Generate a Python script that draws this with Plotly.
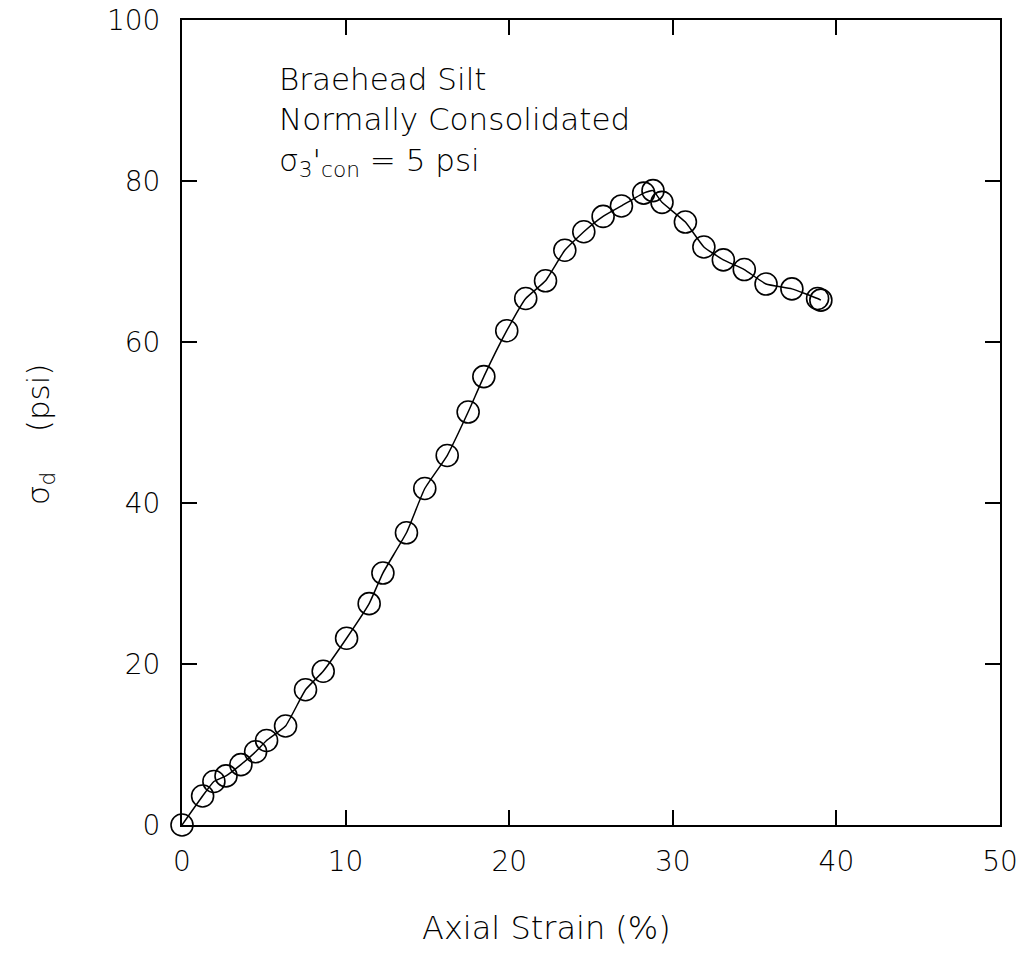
import plotly.graph_objects as go

# Axial strain (%) and deviator stress (psi) for the triaxial test
axial_strain = [0.0, 1.26, 1.95, 2.69, 3.6, 4.5, 5.17, 6.33, 7.55, 8.63,
                10.06, 11.44, 12.28, 13.72, 14.84, 16.21, 17.49, 18.45, 19.85, 21.01,
                22.22, 23.4, 24.56, 25.74, 26.86, 28.22, 28.79, 29.34, 30.77, 31.9,
                33.09, 34.37, 35.7, 37.28, 38.85, 39.05]
deviator_stress = [0.0, 3.6, 5.4, 6.1, 7.5, 9.1, 10.5, 12.3, 16.8, 19.1,
                   23.2, 27.5, 31.3, 36.3, 41.8, 45.9, 51.3, 55.7, 61.4, 65.4,
                   67.6, 71.4, 73.7, 75.6, 76.9, 78.5, 78.8, 77.35, 74.9, 71.8,
                   70.2, 69.0, 67.2, 66.6, 65.4, 65.2]

x_ticks = [0, 10, 20, 30, 40, 50]
y_ticks = [0, 20, 40, 60, 80, 100]

FONT = "DejaVu Sans"
WEIGHT = 200

fig = go.Figure()
fig.add_trace(go.Scatter(
    x=axial_strain, y=deviator_stress,
    mode="lines+markers",
    line=dict(color="black", width=1.5, shape="spline", smoothing=0.4),
    marker=dict(symbol="circle-open", size=22, color="black",
                line=dict(color="black", width=1.6)),
    cliponaxis=False,
    showlegend=False,
))

axis_common = dict(
    showgrid=False, zeroline=False, automargin=False,
    showline=True, linecolor="black", linewidth=2,
    mirror="ticks", ticks="inside", ticklen=15, tickwidth=1.5, tickcolor="black",
    tickfont=dict(family=FONT, size=28, color="black", weight=WEIGHT),
)

fig.update_xaxes(range=[0, 50], tickvals=x_ticks, ticklabelstandoff=10, **axis_common)
fig.update_yaxes(range=[0, 100], tickvals=y_ticks, ticklabelstandoff=14, **axis_common)

fig.add_annotation(
    text="Braehead Silt<br>Normally Consolidated<br>σ<sub>3</sub>'<sub>con</sub> = 5 psi",
    xref="paper", yref="paper", x=0.116, y=0.951, xanchor="left", yanchor="top",
    align="left", showarrow=False,
    font=dict(family=FONT, size=31, color="black", weight=WEIGHT),
)

fig.add_annotation(
    text="Axial Strain (%)",
    xref="paper", yref="paper", x=0.446, y=-0.128, xanchor="center", yanchor="middle",
    showarrow=False, font=dict(family=FONT, size=32, color="black", weight=WEIGHT),
)

fig.add_annotation(
    text="σ<sub>d</sub>\u00a0\u00a0\u00a0\u00a0(psi)",
    xref="paper", yref="paper", x=-0.173, y=0.485, xanchor="center", yanchor="middle",
    textangle=-90, showarrow=False,
    font=dict(family=FONT, size=31, color="black", weight=WEIGHT),
)

fig.update_layout(
    width=1028, height=954,
    margin=dict(l=182, r=28, t=20, b=129),
    paper_bgcolor="white", plot_bgcolor="white",
)

fig.write_html("out.html")
